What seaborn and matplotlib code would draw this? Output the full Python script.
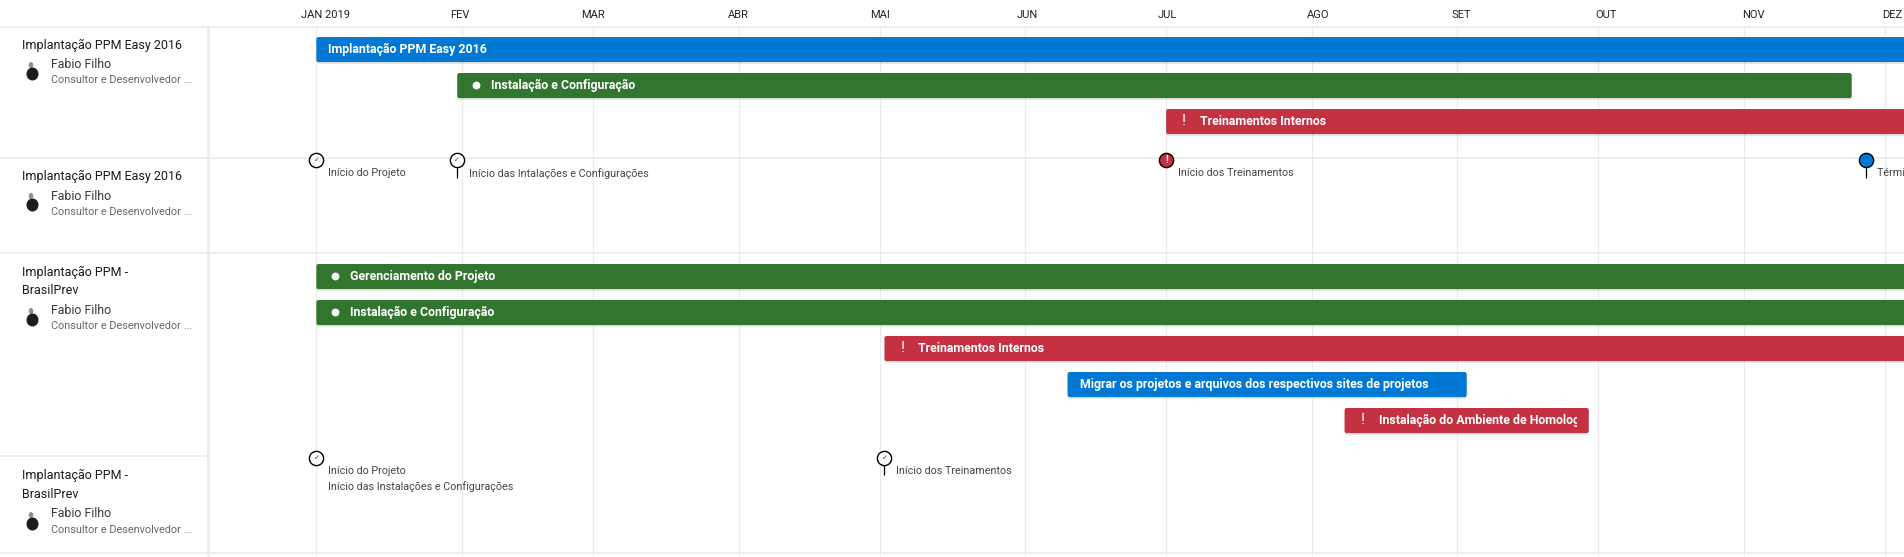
import datetime as dt

import matplotlib.dates as mdates
import matplotlib.patheffects as pe
import matplotlib.pyplot as plt
import seaborn as sns
from matplotlib.patches import Ellipse, FancyBboxPatch
from matplotlib.transforms import Affine2D, Bbox, ScaledTranslation, TransformedBbox

# timeline
month_labels = ['JAN 2019', 'FEV', 'MAR', 'ABR', 'MAI', 'JUN', 'JUL', 'AGO', 'SET', 'OUT', 'NOV', 'DEZ']
month_starts = ['2019-%02d-01' % m for m in range(1, 13)]
month_label_nudge = [9, -2, 0, -1, 0, 2, 1, 6, 4, 8, 10, 8]

# tasks
task_names = ['Implantação PPM Easy 2016', 'Instalação e Configuração', 'Treinamentos Internos',
              'Gerenciamento do Projeto', 'Instalação e Configuração', 'Treinamentos Internos',
              'Migrar os projetos e arquivos dos respectivos sites de projetos',
              'Instalação do Ambiente de Homologação']
task_starts = ['2019-01-01', '2019-01-31', '2019-07-01', '2019-01-01', '2019-01-01', '2019-05-02',
               '2019-06-10', '2019-08-08']
task_ends = ['2019-12-31', '2019-11-24', '2019-12-31', '2019-12-31', '2019-12-31', '2019-12-31',
             '2019-09-03', '2019-09-29']
task_status = ['plain', 'ok', 'late', 'ok', 'ok', 'late', 'plain', 'late']
task_group = [0, 0, 0, 1, 1, 1, 1, 1]
task_slot = [0, 1, 2, 0, 1, 2, 3, 4]

# milestones
ms_names = ['Início do Projeto', 'Início das Intalações e Configurações', 'Início dos Treinamentos',
            'Término do Projeto', 'Início do Projeto', 'Início dos Treinamentos']
ms_dates = ['2019-01-01', '2019-01-31', '2019-07-01', '2019-11-27', '2019-01-01', '2019-05-02']
ms_status = ['done', 'done', 'late', 'plain', 'done', 'done']
ms_group = [0, 0, 0, 0, 1, 1]
ms_stem = [False, True, False, True, False, True]
ms_extra_name = 'Início das Instalações e Configurações'

# left panel
panel_titles = [['Implantação PPM Easy 2016'], ['Implantação PPM Easy 2016'],
                ['Implantação PPM -', 'BrasilPrev'], ['Implantação PPM -', 'BrasilPrev']]
panel_person = 'Fabio Filho'
panel_role = 'Consultor e Desenvolvedor ...'

W, H = 1904, 557
HEADER = 27.3
PX_DAY = 4.695
JAN_PX = 316.4
colors = {'plain': '#0078D4', 'ok': '#31752F', 'late': '#C33142', 'done': 'white'}
task_top = [37, 264]
ms_row = [158.3, 456]
panel_y = [(45, 64.5, 80.2, 71), (176, 196.8, 212.2, 202), (272, 310.8, 326.2, 317), (475, 513.8, 530.2, 521)]
LINE = '#EBEBEB'
INK = '#1A1A1A'


def num(day):
    return mdates.date2num(dt.date.fromisoformat(day))


sns.set_theme(style='white')
plt.rcParams['font.family'] = ['Roboto', 'DejaVu Sans']

fig = plt.figure(figsize=(W / 100, H / 100), dpi=100)
ax = fig.add_axes([0, 0, 1, (H - HEADER) / H])
px = Affine2D().scale(1, -1).translate(0, H)  # picture pixels, for the side panel
x_left = num('2019-01-01') - JAN_PX / PX_DAY

for name, start, end, status, group, slot in zip(task_names, task_starts, task_ends, task_status, task_group, task_slot):
    y = task_top[group] + 12.5 + 36 * slot
    x0, x1 = num(start), num(end)
    sns.barplot(x=[x1 - x0], y=[y], left=x0, orient='y', native_scale=True, width=25, color=colors[status],
                saturation=1, linewidth=0, errorbar=None, ax=ax, zorder=3)
    bar = ax.patches[-1]
    box = FancyBboxPatch((bar.get_x(), bar.get_y()), bar.get_width(), bar.get_height(),
                         boxstyle='round,pad=0,rounding_size=0.45', mutation_aspect=PX_DAY,
                         facecolor=colors[status], linewidth=0, zorder=3)
    box.set_path_effects([pe.SimplePatchShadow(offset=(0, -1.2), shadow_rgbFace='black', alpha=0.14), pe.Normal()])
    bar.remove()
    ax.add_patch(box)

    text_off = 12 if status == 'plain' else 34
    label = ax.text(x0 + text_off / PX_DAY, y, name, color='white', fontsize=8.9, fontweight='bold',
                    va='center', ha='left', zorder=5)
    label.set_clip_on(True)
    label.set_clip_box(TransformedBbox(Bbox([[x0, 0], [x1 - 12 / PX_DAY, H]]), ax.transData))
    if status == 'ok':
        sns.scatterplot(x=[x0 + 19 / PX_DAY], y=[y], s=32, color='white', linewidth=0, ax=ax, zorder=5)
    if status == 'late':
        ax.text(x0 + 18 / PX_DAY, y, '!', color='white', fontsize=11, va='center', ha='center', zorder=5)

for name, day, status, group, stem in zip(ms_names, ms_dates, ms_status, ms_group, ms_stem):
    x = num(day)
    row = ms_row[group]
    if stem:
        ax.vlines(x, row + 2, row + 19.4, color='black', linewidth=0.9, zorder=4)
    sns.scatterplot(x=[x], y=[row + 1.8], s=105, color=colors[status], edgecolor='black', linewidth=1,
                    ax=ax, zorder=5, clip_on=False)
    if status == 'done':
        ax.text(x, row + 2, '✓', family='DejaVu Sans', fontsize=5, color='#333333', va='center', ha='center', zorder=6)
    if status == 'late':
        ax.text(x, row + 2, '!', color='white', fontsize=7, fontweight='bold', va='center', ha='center', zorder=6)
    ax.text(x + 11.4 / PX_DAY, row + 15, name, fontsize=7.75, color='#444444', va='center', ha='left', clip_on=True)
ax.text(num(ms_dates[4]) + 11.4 / PX_DAY, ms_row[1] + 31, ms_extra_name, fontsize=7.75, color='#444444', va='center', ha='left')

# swimlane separators
for y in (158.3, 253.3, 552.7):
    ax.axhline(y, color=LINE, linewidth=1.2, zorder=1)
ax.plot([0, 208], [456, 456], transform=px, color=LINE, linewidth=1.2, zorder=1)
ax.plot([208, 208], [HEADER, H], transform=px, color=LINE, linewidth=1.8, zorder=1)

# side panel
for titles, (title_y, name_y, role_y, avatar_y) in zip(panel_titles, panel_y):
    for i, line in enumerate(titles):
        ax.text(21.6, title_y + 19 * i, line, transform=px, fontsize=9, color=INK, va='center', ha='left')
    ax.text(50.6, name_y, panel_person, transform=px, fontsize=8.9, color='#3A3A3A', va='center', ha='left')
    ax.text(50.6, role_y, panel_role, transform=px, fontsize=7.8, color='#666666', va='center', ha='left')
    ax.add_patch(Ellipse((31, avatar_y - 6), 4.5, 6, transform=px, facecolor='#9A8A80', linewidth=0))
    ax.add_patch(Ellipse((32.5, avatar_y + 3), 12, 13, transform=px, facecolor='#1C1C22', linewidth=0))

ax.set_xlim(x_left, x_left + W / PX_DAY)
ax.set_ylim(H, HEADER)
ax.set_xlabel('')
ax.set_ylabel('')
ax.set_yticks([])
ax.xaxis.tick_top()
ax.set_xticks([num(d) for d in month_starts], labels=month_labels)
ax.tick_params(axis='x', length=0, pad=5, labelsize=8, labelcolor='#222222')
for tick_label, nudge in zip(ax.get_xticklabels(), month_label_nudge):
    tick_label.set_transform(tick_label.get_transform() + ScaledTranslation(nudge / 100, 0, fig.dpi_scale_trans))
ax.grid(axis='x', color=LINE, linewidth=0.9)
ax.set_axisbelow(True)
sns.despine(ax=ax, left=True, right=True, bottom=True, top=False)
ax.spines['top'].set_color(LINE)
ax.spines['top'].set_linewidth(1.2)

fig.savefig('out.png', dpi=100)
